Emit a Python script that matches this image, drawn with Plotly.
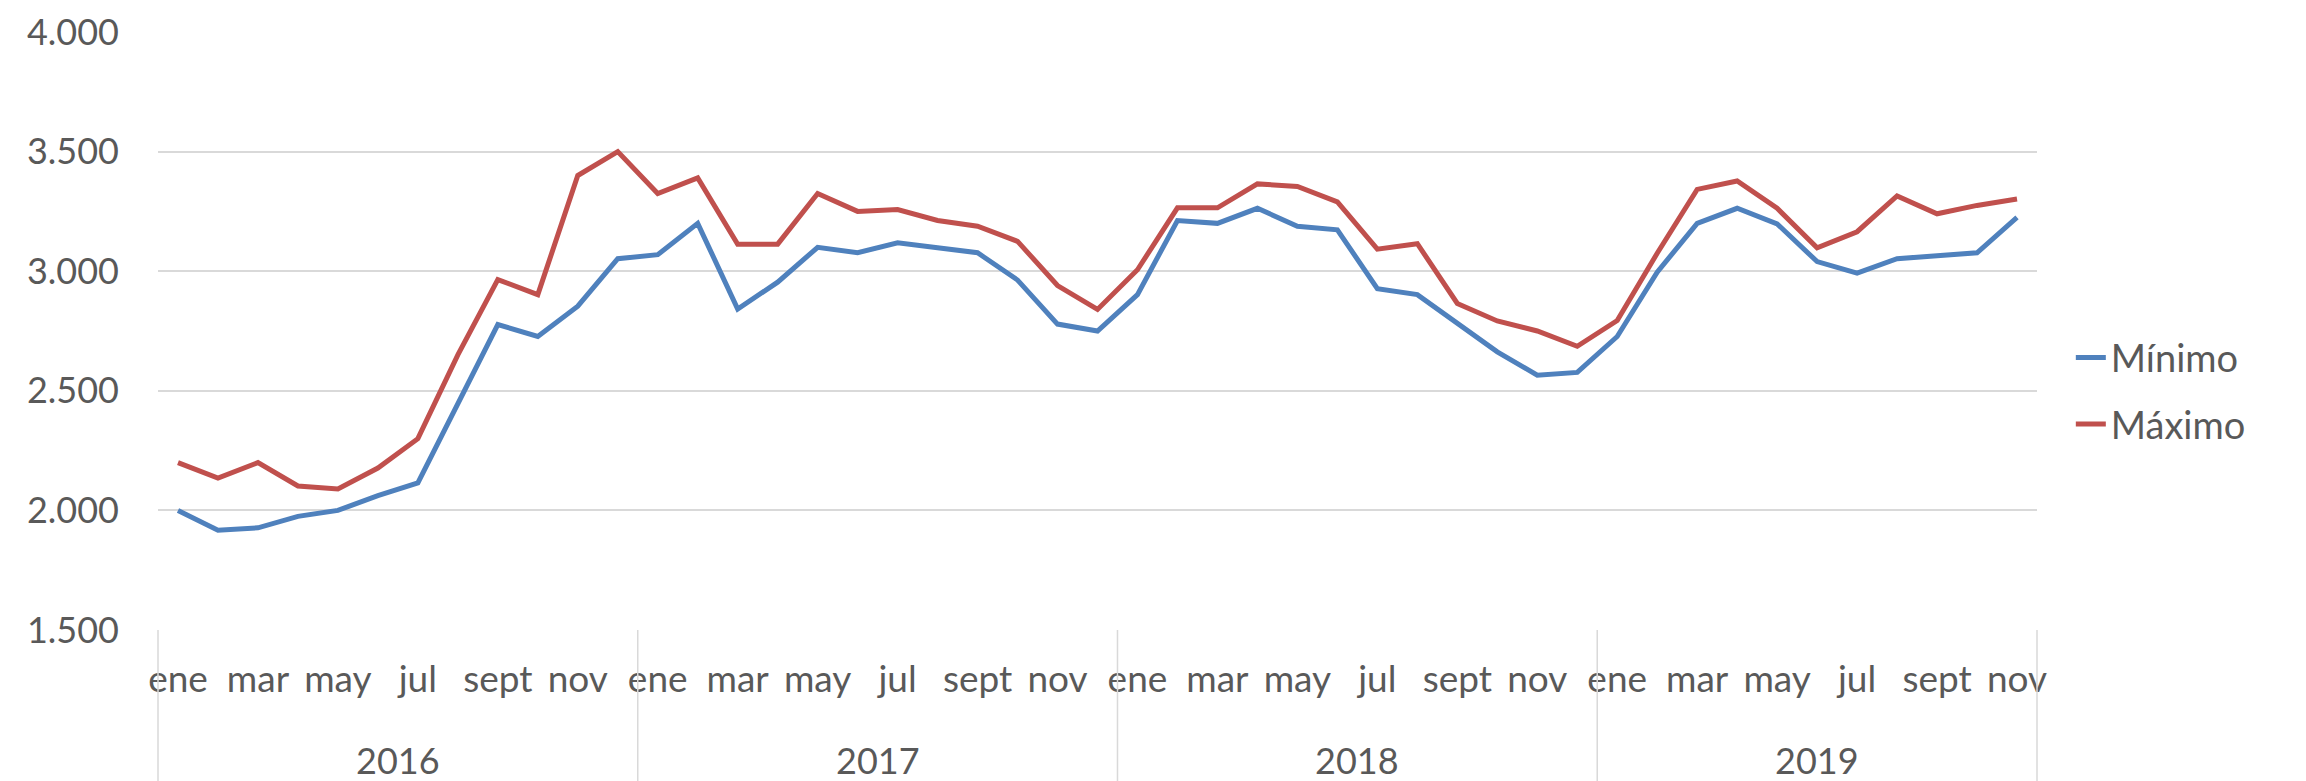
import plotly.graph_objects as go

years = ["2016", "2017", "2018", "2019"]
months_per_year = [12, 12, 12, 11]
month_names = ["ene", "feb", "mar", "abr", "may", "jun", "jul", "ago", "sept", "oct", "nov", "dic"]

minimo = [2000, 1917, 1927, 1975, 2000, 2062, 2115, 2450, 2777, 2727, 2854, 3052,
          3069, 3200, 2842, 2954, 3100, 3077, 3119, 3098, 3077, 2963, 2779, 2750,
          2902, 3212, 3200, 3263, 3188, 3173, 2927, 2902, 2780, 2663, 2565, 2577,
          2727, 2996, 3200, 3263, 3198, 3040, 2992, 3052, 3065, 3077, 3225]
maximo = [2200, 2135, 2200, 2102, 2090, 2177, 2300, 2650, 2965, 2902, 3400, 3500,
          3325, 3390, 3113, 3113, 3325, 3250, 3258, 3212, 3188, 3125, 2940, 2840,
          3006, 3265, 3265, 3365, 3354, 3290, 3092, 3115, 2865, 2792, 2750, 2686,
          2794, 3075, 3342, 3377, 3263, 3098, 3165, 3315, 3240, 3275, 3302]

y_ticks = [1500, 2000, 2500, 3000, 3500, 4000]
y_tick_labels = ["1.500", "2.000", "2.500", "3.000", "3.500", "4.000"]

FONT = "Lato"
TXT = "#595959"
GRID = "#d9d9d9"

n = sum(months_per_year)
x = list(range(n))

tickvals, ticktext = [], []
idx = 0
for cnt in months_per_year:
    for m in range(cnt):
        if m % 2 == 0:
            tickvals.append(idx)
            ticktext.append(month_names[m])
        idx += 1

fig = go.Figure()
fig.add_trace(go.Scatter(x=x, y=minimo, mode="lines", name="Mínimo", legendgroup="a",
                         line=dict(color="#4f81bd", width=5)))
fig.add_trace(go.Scatter(x=x, y=maximo, mode="lines", name="Máximo", legendgroup="b",
                         line=dict(color="#c0504d", width=5)))

W, H = 2306, 781
ml, mr, mt, mb = 150, 277, 24, 159
ph = H - mt - mb

shapes = []
annotations = []
start = 0
bounds = [0]
for yr, cnt in zip(years, months_per_year):
    end = start + cnt
    bounds.append(end)
    annotations.append(dict(x=(start + end) / 2 / n, y=-(752 - (H - mb)) / ph, xref="paper", yref="paper",
                            text=yr, showarrow=False, font=dict(family=FONT, size=36, color=TXT),
                            xanchor="center", yanchor="middle"))
    start = end
for b in bounds:
    shapes.append(dict(type="line", xref="paper", yref="paper", x0=b / n, x1=b / n,
                       y0=0, y1=-(mb + 5) / ph, line=dict(color=GRID, width=1.5)))

fig.update_layout(
    width=W, height=H,
    margin=dict(l=ml, r=mr, t=mt, b=mb, autoexpand=False),
    paper_bgcolor="white", plot_bgcolor="white",
    font=dict(family=FONT, size=36, color=TXT),
    showlegend=True,
    legend=dict(x=1.018, y=0.40, xanchor="left", yanchor="middle",
                font=dict(family=FONT, size=38, color=TXT),
                tracegroupgap=14, bgcolor="rgba(0,0,0,0)"),
    shapes=shapes,
    annotations=annotations,
)
fig.update_xaxes(range=[-0.5, n - 0.5], tickvals=tickvals, ticktext=ticktext,
                 showgrid=False, zeroline=False, showline=False, ticks="",
                 ticklabelstandoff=24, tickfont=dict(family=FONT, size=37, color=TXT),
                 tickangle=0)
fig.update_yaxes(range=[1500, 4000], tickvals=y_ticks, ticktext=y_tick_labels,
                 showgrid=True, gridcolor=GRID, gridwidth=1.5, zeroline=False,
                 showline=False, ticks="", ticklabelstandoff=38,
                 tickfont=dict(family=FONT, size=36, color=TXT))

fig.write_html("out.html")
